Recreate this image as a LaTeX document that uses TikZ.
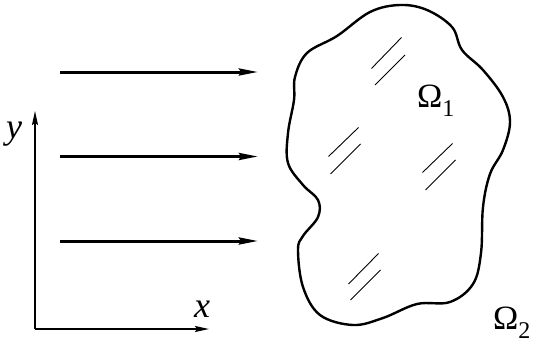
\documentclass[tikz,border=0pt]{standalone}
\usepackage{fontspec}
\setmainfont{Liberation Serif}
\usetikzlibrary{arrows.meta}

\begin{document}
\begin{tikzpicture}[x=1pt, y=-1pt, >={Stealth[length=19pt, width=7pt, inset=2pt]}]
    \tikzstyle{flow}=[->, line width=3pt]
    \tikzstyle{axis}=[-{Stealth[length=14pt, width=6pt, inset=2pt]}, line width=1.6pt]
    \tikzstyle{hatch}=[line width=0.9pt]
    \tikzstyle{lbl}=[anchor=base west, inner sep=0pt, font=\fontsize{36}{36}\selectfont\itshape]
    \tikzstyle{region}=[anchor=base west, inner sep=0pt, font=\fontsize{34}{34}\selectfont]

    \useasboundingbox (0,0) rectangle (537,345);

    % incoming flow
    \coordinate (flowAs) at (60,72);
    \coordinate (flowAe) at (258,72);
    \coordinate (flowBs) at (60,156.5);
    \coordinate (flowBe) at (258,156.5);
    \coordinate (flowCs) at (60,241);
    \coordinate (flowCe) at (258,241);
    \draw[flow] (flowAs) -- (flowAe);
    \draw[flow] (flowBs) -- (flowBe);
    \draw[flow] (flowCs) -- (flowCe);

    % axes
    \coordinate (orig) at (35,329);
    \coordinate (yend) at (35,111);
    \coordinate (xend) at (209,329);
    \draw[axis] (orig) -- (yend);
    \draw[axis] (orig) -- (xend);
    \node[lbl] (ylbl) at (6,138) {y};
    \node[lbl] (xlbl) at (194,317) {x};

    % body
    \draw[line width=2.4pt] plot[smooth cycle, tension=0.6] coordinates {
        (295,77) (307,53) (337,36) (370,12) (400,5) (427,10) (452,27)
        (462,50) (483,70) (503,97) (510,122) (503,150) (490,174)
        (483,207) (481,253) (473,284) (450,302) (417,304) (383,318)
        (353,325) (320,315) (303,287) (298,250) (303,236) (318,217)
        (318,200) (303,185) (288,163) (288,133) (294,100)};

    \draw[hatch] (371.5,68.5) -- (401.5,37.5);
    \draw[hatch] (375,85) -- (405,55);
    \draw[hatch] (328.5,156.5) -- (358.5,127.5);
    \draw[hatch] (330.5,174) -- (360.5,144);
    \draw[hatch] (422.5,172.5) -- (452.5,143.5);
    \draw[hatch] (425.5,190) -- (455.5,160);
    \draw[hatch] (348.5,284) -- (378.5,253.5);
    \draw[hatch] (350.5,300) -- (380.5,270);

    \node[region] (omega1) at (417,107) {Ω\raisebox{-0.28em}{\fontsize{24}{24}\selectfont 1}};
    \node[region] (omega2) at (493,329) {Ω\raisebox{-0.28em}{\fontsize{24}{24}\selectfont 2}};
\end{tikzpicture}
\end{document}
